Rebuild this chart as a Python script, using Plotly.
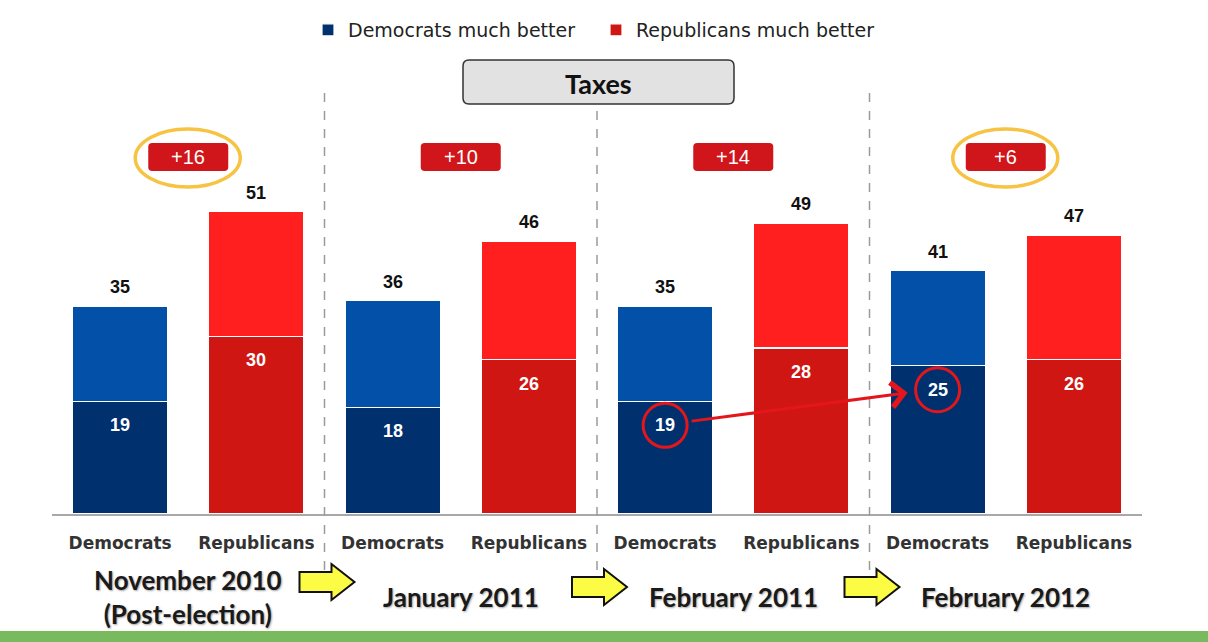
import plotly.graph_objects as go

# ---------------- data ----------------
periods = ["November 2010<br>(Post-election)", "January 2011", "February 2011", "February 2012"]
parties = ["Democrats", "Republicans"]
dem_total = [35, 36, 35, 41]
dem_much = [19, 18, 19, 25]
rep_total = [51, 46, 49, 47]
rep_much = [30, 26, 28, 26]
highlight_groups = [0, 3]          # gaps circled in gold
arrow_from, arrow_to = 2, 3        # Democrats "much better" 19 -> 25

# ---------------- style ----------------
DARK_BLUE = "#00316e"
LIGHT_BLUE = "#0350a8"
DARK_RED = "#d01612"
LIGHT_RED = "#ff1f1f"
BADGE_RED = "#d0161a"
GOLD = "#f6c343"
CIRCLE_RED = "#e3161b"

W, H = 1208, 642
ML, MR, MT, MB = 52, 66, 0, 128
PW, PH = W - ML - MR, H - MT - MB
n = len(periods)
X_RANGE = [-0.5, n - 0.5]
PX_PER_X = PW / (X_RANGE[1] - X_RANGE[0])
PX_PER_Y = 5.93
Y_MAX = PH / PX_PER_Y


def pxx(px):
    return (px - ML) / PW


def pxy(py):
    return (MT + PH - py) / PH


def dx(px):
    return px / PX_PER_X


def dy(px):
    return px / PX_PER_Y


dem_x = [i - 0.25 for i in range(n)]
rep_x = [i + 0.25 for i in range(n)]
BAR_W = 95 / PX_PER_X

fig = go.Figure()
fig.add_bar(x=dem_x, y=dem_much, name="Democrats much better", width=BAR_W,
            marker=dict(color=DARK_BLUE, line=dict(color="white", width=1.2)), hoverinfo="skip")
fig.add_bar(x=rep_x, y=rep_much, name="Republicans much better", width=BAR_W,
            marker=dict(color=DARK_RED, line=dict(color="white", width=1.2)), hoverinfo="skip")
fig.add_bar(x=dem_x, y=[t - m for t, m in zip(dem_total, dem_much)], name="Democrats (total)",
            width=BAR_W, showlegend=False,
            marker=dict(color=LIGHT_BLUE, line=dict(color="white", width=1.2)), hoverinfo="skip")
fig.add_bar(x=rep_x, y=[t - m for t, m in zip(rep_total, rep_much)], name="Republicans (total)",
            width=BAR_W, showlegend=False,
            marker=dict(color=LIGHT_RED, line=dict(color="white", width=1.2)), hoverinfo="skip")

annotations = []
shapes = []
BOLD = "Arial, 'Liberation Sans', sans-serif"
WIDE = "'DejaVu Sans', Verdana, sans-serif"
TITLE = "Lato, 'Open Sans', sans-serif"

# value labels
for xs, tots, muchs in ((dem_x, dem_total, dem_much), (rep_x, rep_total, rep_much)):
    for x, t, m in zip(xs, tots, muchs):
        annotations.append(dict(x=x, y=t, xref="x", yref="y", text=f"<b>{t}</b>", showarrow=False,
                                yanchor="middle", yshift=19,
                                font=dict(family=BOLD, size=18, color="#111")))
        annotations.append(dict(x=x, y=m, xref="x", yref="y", text=f"<b>{m}</b>", showarrow=False,
                                yanchor="middle", yshift=-24,
                                font=dict(family=BOLD, size=18, color="white")))


def rrect(x0, y0, x1, y1, r):
    # pixel coords -> paper path with rounded corners
    pts = [
        f"M{pxx(x0 + r)},{pxy(y0)}",
        f"L{pxx(x1 - r)},{pxy(y0)}",
        f"Q{pxx(x1)},{pxy(y0)} {pxx(x1)},{pxy(y0 + r)}",
        f"L{pxx(x1)},{pxy(y1 - r)}",
        f"Q{pxx(x1)},{pxy(y1)} {pxx(x1 - r)},{pxy(y1)}",
        f"L{pxx(x0 + r)},{pxy(y1)}",
        f"Q{pxx(x0)},{pxy(y1)} {pxx(x0)},{pxy(y1 - r)}",
        f"L{pxx(x0)},{pxy(y0 + r)}",
        f"Q{pxx(x0)},{pxy(y0)} {pxx(x0 + r)},{pxy(y0)}",
    ]
    return " ".join(pts) + " Z"


def data_to_px_x(x):
    return ML + (x - X_RANGE[0]) * PX_PER_X


# dashed separators
for i in range(n - 1):
    xp = (i + 0.5 - X_RANGE[0]) / (X_RANGE[1] - X_RANGE[0])
    shapes.append(dict(type="line", xref="paper", yref="paper", x0=xp, x1=xp,
                       y0=pxy(93), y1=pxy(582), line=dict(color="#9a9a9a", width=1.5, dash="dash")))

# gap badges
BADGE_CY = 157
for i in range(n):
    gap = rep_total[i] - dem_total[i]
    cx = data_to_px_x(i)
    shapes.append(dict(type="path", xref="paper", yref="paper",
                       path=rrect(cx - 40, BADGE_CY - 14, cx + 40, BADGE_CY + 14, 4),
                       fillcolor=BADGE_RED, line=dict(width=0)))
    annotations.append(dict(x=i, y=pxy(BADGE_CY), xref="x", yref="paper", yanchor="middle",
                            text=f"{'+' if gap > 0 else ''}{gap}", showarrow=False,
                            font=dict(family=BOLD, size=20, color="white")))
for i in highlight_groups:
    cx = data_to_px_x(i)
    shapes.append(dict(type="circle", xref="paper", yref="paper",
                       x0=pxx(cx - 53), x1=pxx(cx + 52), y0=pxy(BADGE_CY + 30), y1=pxy(BADGE_CY - 28),
                       line=dict(color=GOLD, width=3.5)))

# Taxes box
shapes.append(dict(type="path", xref="paper", yref="paper",
                   path=rrect(463, 60, 734, 104, 6), fillcolor="#e2e2e2",
                   line=dict(color="#333333", width=1.5)))
annotations.append(dict(x=pxx(598), y=pxy(84), xref="paper", yref="paper", text="<b>Taxes</b>",
                        showarrow=False, yanchor="middle", xanchor="center",
                        font=dict(family=TITLE, size=27, color="#111")))

# red circles + arrow on Democrats "much better"
for g in (arrow_from, arrow_to):
    cxd = dem_x[g]
    cyd = dem_much[g] - dy(24)
    shapes.append(dict(type="circle", xref="x", yref="y",
                       x0=cxd - dx(22), x1=cxd + dx(22), y0=cyd - dy(22), y1=cyd + dy(22),
                       line=dict(color=CIRCLE_RED, width=3)))
annotations.append(dict(x=dem_x[arrow_to] - dx(30), y=dem_much[arrow_to] - dy(27), xref="x", yref="y",
                        ax=dem_x[arrow_from] + dx(25), ay=dem_much[arrow_from] - dy(20),
                        axref="x", ayref="y", text="", showarrow=True, arrowhead=4, arrowsize=1.6,
                        arrowwidth=3, arrowcolor=CIRCLE_RED, standoff=0, startstandoff=0))

# period labels
for i, p in enumerate(periods):
    annotations.append(dict(x=i, y=pxy(597), xref="x", yref="paper", text=f"<b>{p}</b>",
                            showarrow=False, yanchor="middle",
                            font=dict(family=TITLE, size=26, color="#1a1a1a",
                                      shadow="1px 1px 2px rgba(0,0,0,0.35)")))

# yellow arrows between periods
for i, cy in zip(range(n - 1), (582, 587, 587)):
    cx = data_to_px_x(i + 0.5)
    x0, xb, xt = cx - 25, cx + 7, cx + 30
    path = (f"M{pxx(x0)},{pxy(cy - 10)} L{pxx(xb)},{pxy(cy - 10)} L{pxx(xb)},{pxy(cy - 18)} "
            f"L{pxx(xt)},{pxy(cy)} L{pxx(xb)},{pxy(cy + 18)} L{pxx(xb)},{pxy(cy + 10)} "
            f"L{pxx(x0)},{pxy(cy + 10)} Z")
    shapes.append(dict(type="path", xref="paper", yref="paper", path=path,
                       fillcolor="#fdfc44", line=dict(color="#111", width=2)))

# green band
shapes.append(dict(type="rect", xref="paper", yref="paper", x0=pxx(-2), x1=pxx(W + 2),
                   y0=pxy(H + 2), y1=pxy(631), fillcolor="#7aba5e", line=dict(width=0)))

tickvals = []
ticktext = []
for i in range(n):
    tickvals += [dem_x[i], rep_x[i]]
    ticktext += [f"<b>{parties[0]}</b>", f"<b>{parties[1]}</b>"]

fig.update_layout(
    width=W, height=H, barmode="stack",
    margin=dict(l=ML, r=MR, t=MT, b=MB),
    paper_bgcolor="white", plot_bgcolor="white",
    xaxis=dict(range=X_RANGE, tickvals=tickvals, ticktext=ticktext, showgrid=False, zeroline=False,
               showline=True, linecolor="#a8a8a8", linewidth=1.5, ticks="outside", ticklen=13,
               tickcolor="rgba(0,0,0,0)", tickfont=dict(family=WIDE, size=17, color="#333")),
    yaxis=dict(range=[0, Y_MAX], visible=False),
    legend=dict(orientation="h", x=pxx(308), y=pxy(30), xanchor="left", yanchor="middle",
                font=dict(family=WIDE, size=19, color="#222"),
                bgcolor="rgba(0,0,0,0)", entrywidth=243, entrywidthmode="pixels", traceorder="normal"),
    shapes=shapes, annotations=annotations,
)

fig.write_html("out.html", config={"displayModeBar": False},
               post_script="document.body.style.margin='0';")
